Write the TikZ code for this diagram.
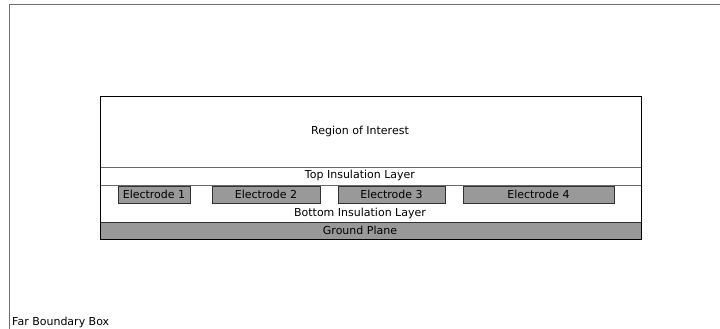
\documentclass[tikz,border=0pt]{standalone}
\usepackage{fontspec}
\setmainfont{DejaVu Sans}
\definecolor{fillgray}{RGB}{153,153,153}
\definecolor{linegray}{RGB}{105,105,105}
\definecolor{edgedark}{RGB}{50,50,50}
\definecolor{farline}{RGB}{110,110,110}
\tikzset{
  layer/.style={draw=linegray, line width=0.8pt, inner sep=0pt, outer sep=0pt, anchor=north west},
  electrode/.style={draw=edgedark, fill=fillgray, line width=0.8pt, inner sep=0pt, outer sep=0pt, anchor=north west, minimum height=17pt, font=\fontsize{11}{13}\selectfont},
  lbl/.style={inner sep=0pt, font=\fontsize{11}{13}\selectfont}
}
\begin{document}
\begin{tikzpicture}[x=1pt,y=-1pt]
\useasboundingbox (0,0) rectangle (720,329);
\clip (0,0) rectangle (720,329);
% far boundary box
\node[draw=farline, line width=1.2pt, inner sep=0pt, outer sep=0pt, anchor=north west, minimum width=740pt, minimum height=350pt] (far) at (9.5,4.5) {};
\node[lbl, anchor=base west] (farlbl) at (12,325) {Far Boundary Box};
% layers
\node[layer, minimum width=541pt, minimum height=71pt] (roi) at (100,96) {};
\node[layer, minimum width=541pt, minimum height=18pt] (topins) at (100,167) {};
\node[layer, minimum width=541pt, minimum height=37pt] (botins) at (100,185) {};
\node[layer, draw=edgedark, fill=fillgray, minimum width=541pt, minimum height=17pt] (ground) at (100,222) {};
\node[draw=black, line width=1pt, inner sep=0pt, outer sep=0pt, anchor=north west, minimum width=541pt, minimum height=143pt] (stack) at (100,96) {};
% labels
\node[lbl] (roilbl) at (360,131.5) {Region of Interest};
\node[lbl] (toplbl) at (360,175.5) {Top Insulation Layer};
\node[lbl] (botlbl) at (360,213) {Bottom Insulation Layer};
\node[lbl] (gndlbl) at (360,230.5) {Ground Plane};
% electrodes
\node[electrode, minimum width=72pt] (e1) at (118,186) {Electrode 1};
\node[electrode, minimum width=108pt] (e2) at (212,186) {Electrode 2};
\node[electrode, minimum width=107pt] (e3) at (338,186) {Electrode 3};
\node[electrode, minimum width=151pt] (e4) at (463,186) {Electrode 4};
\end{tikzpicture}
\end{document}
